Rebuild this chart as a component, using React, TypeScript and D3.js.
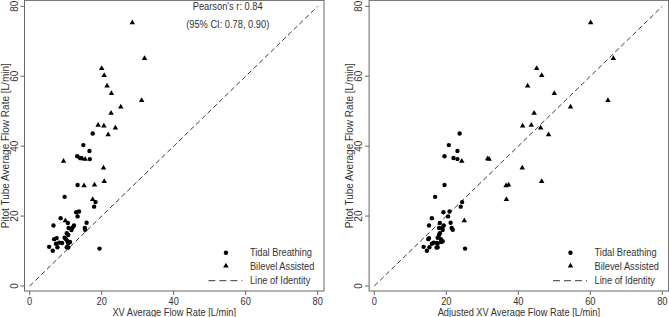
import React from "react";
import * as d3 from "d3";

// Tidal breathing: XV flow (left), adjusted XV flow (right), pitot flow
const tidalXV = [17.5, 14.9, 16.6, 13.2, 14.0, 16.7, 13.3, 9.7, 18.3, 17.9, 13.7, 12.9, 13.3, 8.6, 15.8, 10.6, 6.6, 12.3, 15.3, 15.4, 11.9, 10.8, 11.6, 10.3, 10.7, 9.7, 10.1, 7.5, 6.8, 10.5, 11.2, 10.7, 8.2, 9.0, 7.3, 7.7, 10.3, 10.7, 5.4, 6.4, 19.4];
const tidalAdj = [23.7, 20.7, 23.1, 19.5, 22.0, 23.1, 19.5, 16.9, 24.4, 24.0, 20.9, 19.2, 20.5, 16.0, 21.2, 18.2, 15.2, 19.3, 21.5, 21.8, 18.9, 18.0, 19.0, 18.2, 18.0, 17.6, 18.5, 15.2, 15.0, 19.0, 18.6, 17.6, 16.5, 17.4, 16.0, 15.3, 17.6, 17.3, 13.7, 14.6, 25.2];
const tidalPitot = [43.6, 40.3, 38.6, 37.1, 36.6, 36.3, 28.9, 25.5, 24.0, 22.7, 21.3, 21.1, 19.9, 19.4, 18.1, 18.0, 17.3, 17.3, 16.6, 16.1, 16.7, 16.6, 16.0, 15.1, 14.6, 13.8, 13.4, 13.7, 13.4, 12.8, 12.6, 12.2, 12.4, 12.3, 12.1, 11.1, 11.1, 11.0, 11.2, 10.1, 10.7];

// Bilevel assisted
const bilevelXV = [28.5, 31.9, 20.0, 20.7, 21.5, 22.7, 25.3, 31.1, 22.6, 19.0, 20.6, 23.8, 21.8, 9.4, 20.5, 20.7, 15.1, 18.0, 17.5, 9.9, 14.6, 15.4];
const bilevelAdj = [60.1, 66.4, 45.1, 46.5, 42.6, 50.0, 54.5, 64.9, 44.4, 43.6, 41.2, 46.2, 48.4, 24.3, 41.1, 46.5, 36.6, 37.3, 36.7, 25.0, 31.5, 31.9];
const bilevelPitot = [75.3, 65.1, 62.2, 60.2, 57.2, 55.1, 51.2, 53.1, 49.4, 46.0, 45.8, 45.2, 43.3, 35.7, 33.8, 29.9, 28.7, 28.9, 24.8, 18.7, 36.4, 36.3];

const ticks = [0, 20, 40, 60, 80];
const legendLabels = ["Tidal Breathing", "Bilevel Assisted", "Line of Identity"];
const xTitles = ["XV Average Flow Rate [L/min]", "Adjusted XV Average Flow Rate [L/min]"];
const yTitle = "Pitot Tube Average Flow Rate [L/min]";
const statLines = ["Pearson's r: 0.84", "(95% CI: 0.78, 0.90)"];

const FONT = "'Liberation Sans', Arial, sans-serif";
const TXT = "#333";
const AX = "#666";
const SX = 0.93;

function HText({ x, y, children, anchor = "middle", size = 10 }: any) {
  return (
    <text
      transform={`translate(${x},${y}) scale(${SX},1)`}
      textAnchor={anchor}
      dominantBaseline="central"
      fontSize={size}
      fontFamily={FONT}
      fill={TXT}
    >
      {children}
    </text>
  );
}

function Panel({ offset, title, tidalX, bilevelX, showStats }: any) {
  const x = d3.scaleLinear().domain([0, 80]).range([29.7 + offset, 317.7 + offset]);
  const y = d3.scaleLinear().domain([0, 80]).range([286, 6.3]);
  const left = x(-1.44);
  const right = x(81.75);
  const top = y(81.7);
  const bottom = y(-1.43);
  const tri = d3.symbol().type(d3.symbolTriangle).size(13)();
  const lx = x(54.5);
  const ly = [252.7, 266, 280.7];
  return (
    <g>
      <rect x={left} y={top} width={right - left} height={bottom - top} fill="white" stroke={AX} strokeWidth={1} />
      <line x1={x(0)} y1={y(0)} x2={x(80)} y2={y(80)} stroke="#222" strokeWidth={0.9} strokeDasharray="5,3" />
      {ticks.map((t) => (
        <g key={"x" + t}>
          <line x1={x(t)} x2={x(t)} y1={bottom} y2={bottom + 4} stroke={AX} />
          <HText x={x(t)} y={301}>{t}</HText>
        </g>
      ))}
      {ticks.map((t) => (
        <g key={"y" + t}>
          <line x1={left - 4} x2={left} y1={y(t)} y2={y(t)} stroke={AX} />
          <text
            transform={`translate(${left - 10.5},${y(t)}) rotate(-90)`}
            textAnchor="middle"
            dominantBaseline="central"
            fontSize={10}
            fontFamily={FONT}
            fill={TXT}
          >
            {t}
          </text>
        </g>
      ))}
      <HText x={(left + right) / 2} y={312}>{title}</HText>
      <text
        transform={`translate(${left - 19.5},${(top + bottom) / 2}) rotate(-90)`}
        textAnchor="middle"
        dominantBaseline="central"
        fontSize={10}
        fontFamily={FONT}
        fill={TXT}
      >
        {yTitle}
      </text>
      {tidalX.map((v: number, i: number) => (
        <circle key={"c" + i} cx={x(v)} cy={y(tidalPitot[i])} r={2.2} fill="black" />
      ))}
      {bilevelX.map((v: number, i: number) => (
        <path key={"t" + i} d={tri as string} transform={`translate(${x(v)},${y(bilevelPitot[i])})`} fill="black" />
      ))}
      {showStats && (
        <g>
          <HText x={x(55)} y={6}>{statLines[0]}</HText>
          <HText x={x(55)} y={24}>{statLines[1]}</HText>
        </g>
      )}
      <circle cx={lx} cy={ly[0]} r={2.2} fill="black" />
      <path d={tri as string} transform={`translate(${lx},${ly[1]})`} fill="black" />
      <line x1={lx - 17.5} x2={lx + 16.5} y1={ly[2]} y2={ly[2]} stroke="#222" strokeWidth={0.9} strokeDasharray="7,4" />
      {legendLabels.map((l, i) => (
        <HText key={l} x={lx + 24} y={ly[i]} anchor="start">{l}</HText>
      ))}
    </g>
  );
}

export default function App() {
  return (
    <svg width={669} height={317} style={{ position: "absolute", left: 0, top: 0, background: "white" }}>
      <rect width={669} height={317} fill="white" />
      <Panel offset={0} title={xTitles[0]} tidalX={tidalXV} bilevelX={bilevelXV} showStats={true} />
      <Panel offset={344.6} title={xTitles[1]} tidalX={tidalAdj} bilevelX={bilevelAdj} showStats={false} />
    </svg>
  );
}
